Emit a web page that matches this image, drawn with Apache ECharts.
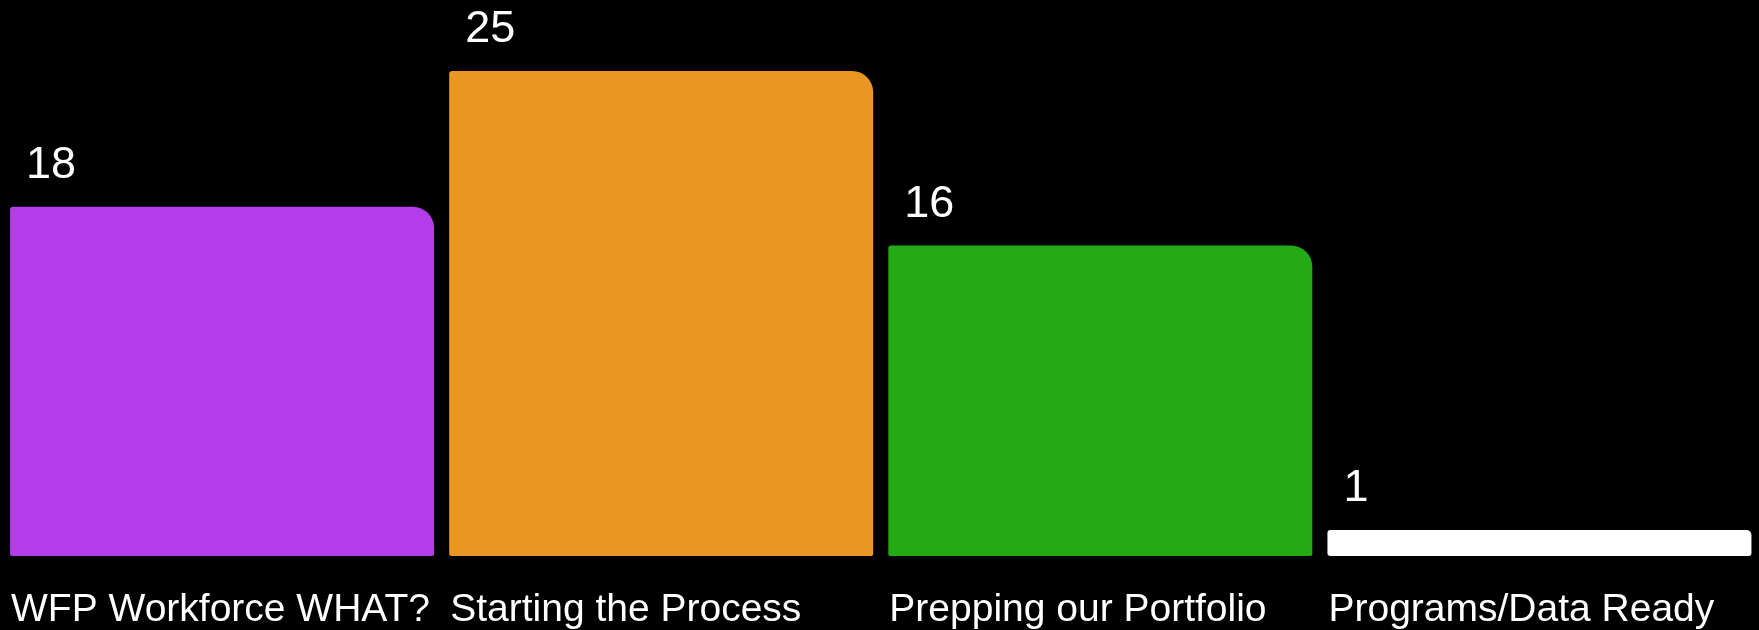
<!DOCTYPE html>
<html>
<head>
<meta charset="utf-8">
<script src="https://cdn.jsdelivr.net/npm/echarts@6/dist/echarts.min.js"></script>
<style>
html,body{margin:0;padding:0;background:#000;}
#chart{width:1759px;height:630px;}
</style>
</head>
<body>
<div id="chart"></div>
<script>
const categories = ['WFP Workforce WHAT?', 'Starting the Process', 'Prepping our Portfolio', 'Programs/Data Ready'];
const values = [18, 25, 16, 1];
const colors = ['#B33CEB', '#EA9625', '#23AA14', '#FFFFFF'];

const chart = echarts.init(document.getElementById('chart'));
const option = {
  backgroundColor: '#000000',
  animation: false,
  grid: { left: 2.5, right: -5, top: 71, bottom: 72, containLabel: false },
  xAxis: {
    type: 'category',
    data: categories,
    axisLine: { show: false },
    axisTick: { show: false },
    axisLabel: {
      interval: 0,
      margin: 35,
      color: '#FFFFFF',
      fontFamily: 'Liberation Sans, Arial, sans-serif',
      fontSize: 39,
      align: 'center',
      formatter: function (v) { return '{a|' + v + '}'; },
      rich: {
        a: {
          width: 422,
          align: 'left',
          color: '#FFFFFF',
          fontFamily: 'Liberation Sans, Arial, sans-serif',
          fontSize: 39
        }
      }
    }
  },
  yAxis: {
    type: 'value',
    min: 0,
    max: 25,
    show: false,
    splitLine: { show: false }
  },
  series: [{
    type: 'bar',
    barWidth: 424,
    barMinHeight: 26,
    data: values.map(function (v, i) {
      return {
        value: v,
        itemStyle: {
          color: colors[i],
          borderRadius: v > 2 ? [3, 21, 2, 2] : [3, 5, 3, 3]
        }
      };
    }),
    label: {
      show: true,
      position: [16, -19],
      align: 'left',
      verticalAlign: 'bottom',
      color: '#FFFFFF',
      fontFamily: 'Liberation Sans, Arial, sans-serif',
      fontSize: 45
    }
  }]
};
chart.setOption(option);
</script>
</body>
</html>
